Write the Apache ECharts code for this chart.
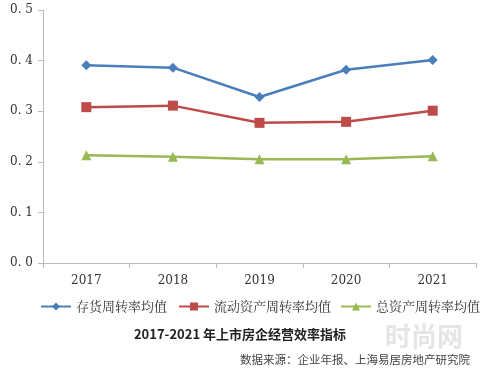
<!DOCTYPE html>
<html><head><meta charset="utf-8">
<script src="https://cdn.jsdelivr.net/npm/echarts@6/dist/echarts.min.js"></script>
<style>html,body{margin:0;padding:0;background:#fff}#c{width:480px;height:368px}</style>
</head><body><div id="c"></div>
<script>
var categories = ['2017','2018','2019','2020','2021'];
var inventoryTurnover = [0.391, 0.386, 0.328, 0.382, 0.401];
var currentAssetTurnover = [0.308, 0.311, 0.277, 0.279, 0.301];
var totalAssetTurnover = [0.213, 0.210, 0.205, 0.205, 0.211];
var seriesNames = ['存货周转率均值','流动资产周转率均值','总资产周转率均值'];
var yTicks = [0, 0.1, 0.2, 0.3, 0.4, 0.5];

var chart = echarts.init(document.getElementById('c'));
var serif = '"DejaVu Serif","Liberation Serif","Noto Sans CJK SC",serif';
var legendLefts = [40, 178, 340];
var legends = seriesNames.map(function(n, i){
  return {
    data: [n], top: 300, left: legendLefts[i], padding: 0, itemWidth: 30, itemHeight: 10,
    textStyle: {fontFamily: '"Noto Serif CJK SC","Noto Sans CJK SC",serif', fontSize: 13, color: '#333'}
  };
});
chart.setOption({
  animation: false,
  grid: {left: 43, right: 4, top: 10, bottom: 105},
  legend: legends,
  title: [{
    text: '2017-2021 年上市房企经营效率指标', left: 'center', top: 323,
    textStyle: {fontSize: 13, fontWeight: 'bold', color: '#222', fontFamily: '"Noto Sans CJK SC",sans-serif'}
  },{
    text: '数据来源：企业年报、上海易居房地产研究院', right: 5, top: 349,
    textStyle: {fontSize: 11.5, fontWeight: 'normal', color: '#444', fontFamily: '"Noto Sans CJK SC",serif'}
  },{
    text: '时尚网', right: 12, top: 318,
    textStyle: {fontSize: 26, fontWeight: 'bold', color: 'rgba(180,180,180,0.35)', fontFamily: '"Noto Sans CJK SC",serif'}
  }],
  xAxis: {
    type: 'category', data: categories, boundaryGap: true,
    axisLine: {lineStyle: {color: '#bbb'}},
    axisTick: {show: true, lineStyle: {color: '#bbb'}},
    axisLabel: {fontFamily: serif, fontSize: 12, color: '#333', margin: 12}
  },
  yAxis: {
    type: 'value', min: yTicks[0], max: yTicks[yTicks.length-1], interval: 0.1,
    axisLine: {show: true, lineStyle: {color: '#bbb'}},
    axisTick: {show: true, lineStyle: {color: '#bbb'}},
    splitLine: {show: false},
    axisLabel: {fontFamily: serif, fontSize: 12, color: '#333', margin: 10,
      formatter: function(v){ return v.toFixed(1).replace('.', '. '); }}
  },
  series: [
    {name: seriesNames[0], type: 'line', data: inventoryTurnover, symbol: 'diamond', symbolSize: 10,
     itemStyle: {color: '#4a7ebb'}, lineStyle: {width: 2.5, color: '#4a7ebb'}},
    {name: seriesNames[1], type: 'line', data: currentAssetTurnover, symbol: 'rect', symbolSize: 10,
     itemStyle: {color: '#be4b48'}, lineStyle: {width: 2.5, color: '#be4b48'}},
    {name: seriesNames[2], type: 'line', data: totalAssetTurnover, symbol: 'triangle', symbolSize: 10,
     itemStyle: {color: '#98b954'}, lineStyle: {width: 2.5, color: '#98b954'}}
  ]
});
</script></body></html>
